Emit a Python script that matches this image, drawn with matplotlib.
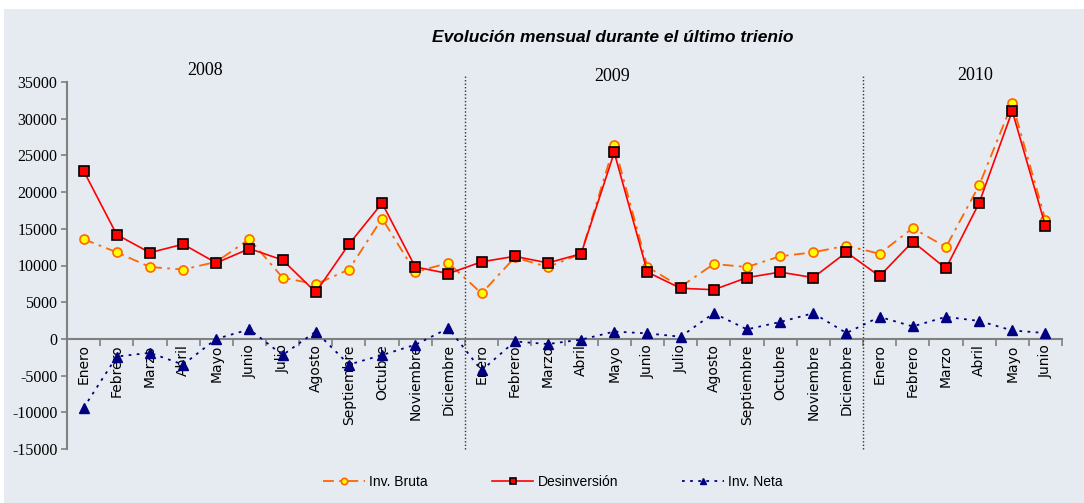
import numpy as np
import matplotlib.pyplot as plt
from matplotlib.patches import Rectangle

plt.rcParams['axes.unicode_minus'] = False

#-----------------------------------------------------------------------------------------------------------------------------------

meses_2008 = ['Enero', 'Febrero', 'Marzo', 'Abril', 'Mayo', 'Junio', 'Julio', 'Agosto',
              'Septiembre', 'Octubre', 'Noviembre', 'Diciembre']
meses_2009 = list(meses_2008)
meses_2010 = ['Enero', 'Febrero', 'Marzo', 'Abril', 'Mayo', 'Junio']
meses = meses_2008 + meses_2009 + meses_2010

inv_bruta = [13600, 11800, 9800, 9450, 10500, 13600, 8350, 7450, 9450, 16400, 9100, 10350,
             6200, 11100, 9800, 11600, 26400, 9800, 7100, 10200, 9800, 11250, 11800, 12700,
             11600, 15100, 12500, 20900, 32100, 16200]
desinversion = [22900, 14200, 11750, 12900, 10350, 12300, 10750, 6350, 12900, 18500, 9800, 8900,
                10500, 11250, 10350, 11600, 25400, 9100, 6900, 6700, 8350, 9100, 8350, 11800,
                8550, 13250, 9600, 18500, 31050, 15400]
inv_neta = [-9400, -2400, -1900, -3500, 0, 1300, -2200, 1000, -3500, -2200, -800, 1450,
            -4300, -350, -700, -100, 1000, 750, 300, 3500, 1300, 2300, 3500, 800,
            3000, 1700, 3000, 2450, 1150, 800]

anios = ['2008', '2009', '2010']

#-----------------------------------------------------------------------------------------------------------------------------------

panel = '#E6EAF1'
fig = plt.figure('evolucion', figsize=(10.84, 5.03), dpi=100, facecolor='white')
fig.patches.append(Rectangle((4/1084, 0), 1, 1-9/503, transform=fig.transFigure,
                             facecolor=panel, edgecolor='none', zorder=-10))

ax = fig.add_axes([67/1084, 1-449/503, (1062-67)/1084, (449-82)/503])
ax.set_facecolor('none')

x = np.arange(len(meses))
ax.plot(x, inv_bruta, color='#FF6600', lw=1.3, dashes=(6, 3, 1.5, 3), marker='o', ms=6.5,
        mfc='#FFFF00', mec='#FF6600', mew=1.2, label='Inv. Bruta', zorder=3)
ax.plot(x, desinversion, color='#FF0000', lw=1.2, marker='s', ms=6.5,
        mfc='#FF0000', mec='black', mew=1.2, label='Desinversión', zorder=4)
ax.plot(x, inv_neta, color='#000080', lw=1.3, dashes=(1.5, 3), marker='^', ms=7,
        mfc='#000080', mec='#000080', label='Inv. Neta', zorder=3)

ax.set_xlim(-0.5, len(meses) - 0.5)
ax.set_ylim(-15000, 35000)
ax.set_yticks(np.arange(-15000, 35001, 5000))
ax.set_yticklabels([str(v) for v in np.arange(-15000, 35001, 5000)],
                   family='Liberation Serif', fontsize=11.5)

ax.set_xticks(x)
ax.set_xticks(np.arange(-0.5, len(meses)), minor=True)
ax.tick_params(axis='x', which='major', length=0, pad=4, labelrotation=90)
ax.tick_params(axis='x', which='minor', length=5, direction='out', color='#808080', width=1.2)
ax.tick_params(axis='y', length=4, direction='out', color='#808080', width=1.2, pad=3)
ax.set_xticklabels(meses, family='Liberation Sans', fontsize=10)
for lab in ax.get_xticklabels():
    lab.set_rotation(90)
    lab.set_va('top')

for s in ['top', 'right']:
    ax.spines[s].set_visible(False)
ax.spines['bottom'].set_position(('data', 0))
for s in ['left', 'bottom']:
    ax.spines[s].set_color('#808080')
    ax.spines[s].set_linewidth(1.5)

# separadores de año
for xs in [11.5, 23.5]:
    ax.plot([xs, xs], [-15000, 35800], color='#333333', lw=1, dashes=(1, 1.5), clip_on=False, zorder=2)

ax.text(3.66, 36600, anios[0], ha='center', va='center', family='Liberation Serif', fontsize=13, clip_on=False)
ax.text(15.93, 35800, anios[1], ha='center', va='center', family='Liberation Serif', fontsize=13, clip_on=False)
ax.text(26.87, 35950, anios[2], ha='center', va='center', family='Liberation Serif', fontsize=13, clip_on=False)

fig.text(0.565, 0.926, 'Evolución mensual durante el último trienio', ha='center', va='center',
         family='Liberation Sans', fontsize=12.5, fontweight='bold', style='italic')

fig.legend(loc='center', bbox_to_anchor=(0.51, 0.042), ncol=3, frameon=False,
           prop={'family': 'Liberation Sans', 'size': 10}, handlelength=3.0,
           handletextpad=0.3, columnspacing=4.6, markerscale=0.7)

plt.savefig('out.png')
